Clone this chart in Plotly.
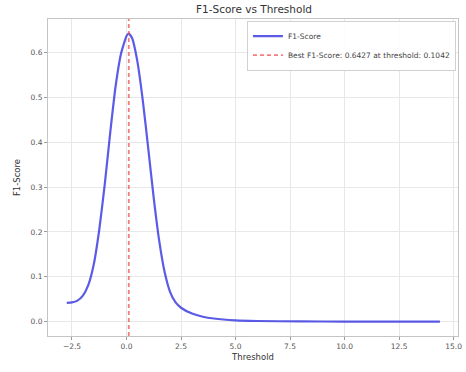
import plotly.graph_objects as go

thresholds = [-2.74, -2.5, -2.25, -2.0, -1.75, -1.5, -1.25, -1.0, -0.75, -0.5, -0.25,
              0.0, 0.1042, 0.25, 0.5, 0.75, 1.0, 1.25, 1.5, 1.75, 2.0, 2.25, 2.5,
              3.0, 3.5, 4.0, 5.0, 6.0, 8.0, 10.0, 12.0, 14.37]
f1_scores = [0.042, 0.043, 0.047, 0.058, 0.082, 0.128, 0.205, 0.305, 0.42, 0.525, 0.598,
             0.637, 0.6427, 0.633, 0.58, 0.492, 0.385, 0.275, 0.18, 0.11, 0.066, 0.043, 0.031,
             0.018, 0.011, 0.007, 0.003, 0.0015, 0.0005, 0.0002, 0.0001, 0.0]
best_threshold = 0.1042
best_f1 = 0.6427
x_ticks = [-2.5, 0.0, 2.5, 5.0, 7.5, 10.0, 12.5, 15.0]
y_ticks = [0.0, 0.1, 0.2, 0.3, 0.4, 0.5, 0.6]

fig = go.Figure()
fig.add_trace(go.Scatter(
    x=thresholds, y=f1_scores, mode="lines", name="F1-Score",
    line=dict(color="rgba(50,50,225,0.8)", width=2.2, shape="spline", smoothing=0.5),
))
fig.add_shape(
    type="line", x0=best_threshold, x1=best_threshold, y0=0, y1=1,
    xref="x", yref="paper",
    line=dict(color="rgba(240,70,70,0.7)", width=1.8, dash="4px,3px"),
    showlegend=True,
    name=f"Best F1-Score: {best_f1:.4f} at threshold: {best_threshold:.4f}",
)

axis_common = dict(
    showgrid=True, gridcolor="#e8e8e8", gridwidth=1,
    showline=True, linecolor="#c4c4c4", linewidth=1, mirror=True,
    ticks="outside", ticklen=3, tickcolor="#999999",
    tickfont=dict(size=7.5, color="#555555"), zeroline=False,
    ticklabeloverflow="allow",
)
fig.update_xaxes(range=[-3.6, 15.2], tickvals=x_ticks, tickformat=".1f",
                 title=dict(text="Threshold", font=dict(size=8.5, color="#333333"), standoff=4),
                 **axis_common)
fig.update_yaxes(range=[-0.032, 0.675], tickvals=y_ticks, tickformat=".1f",
                 title=dict(text="F1-Score", font=dict(size=8.5, color="#333333"), standoff=8),
                 **axis_common)

fig.update_layout(
    width=466, height=372,
    margin=dict(l=48, r=4, t=19, b=36),
    paper_bgcolor="white", plot_bgcolor="white",
    font=dict(family="DejaVu Sans, sans-serif", color="#333333"),
    title=dict(text="F1-Score vs Threshold", x=0.545, xanchor="center", y=0.985, yanchor="top",
               font=dict(size=10.5, color="#333333")),
    legend=dict(x=0.995, y=0.995, xanchor="right", yanchor="top",
                bgcolor="rgba(255,255,255,0.9)", bordercolor="#d0d0d0", borderwidth=1,
                font=dict(size=7.5, color="#444444"), tracegroupgap=0, itemwidth=30),
    showlegend=True,
)

fig.write_html("out.html")
